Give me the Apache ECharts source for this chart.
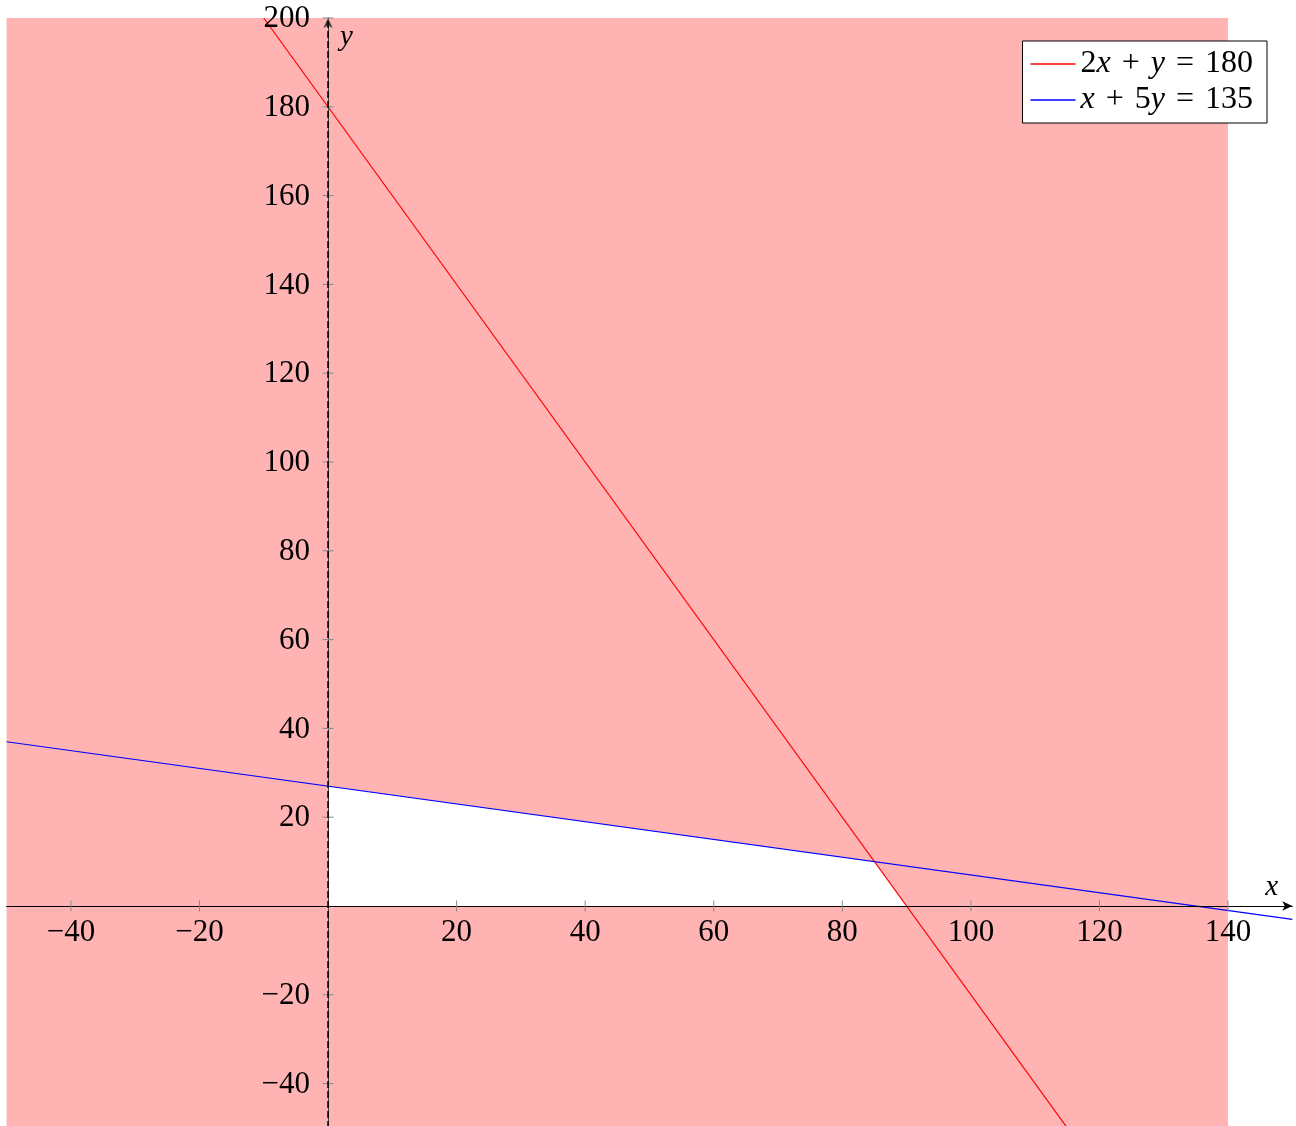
<!DOCTYPE html>
<html><head><meta charset="utf-8">
<script src="https://cdn.jsdelivr.net/npm/echarts@6/dist/echarts.min.js"></script>
<style>html,body{margin:0;padding:0;background:#fff}#c{width:1296px;height:1126px}</style>
</head><body><div id="c"></div>
<script>
// ---- data ----
const xRange = [-50, 150];
const yRange = [-50, 200];
const xTicks = [-40, -20, 20, 40, 60, 80, 100, 120, 140];
const yTicks = [-40, -20, 20, 40, 60, 80, 100, 120, 140, 160, 180, 200];
const seriesNames = ['2x + y = 180', 'x + 5y = 135'];
const line1 = [[-10, 200], [115, -50]];   // 2x + y = 180
const line2 = [[-50, 37], [150, -3]];     // x + 5y = 135
const shadeX = [-50, 140];
const shadeY = [-50, 200];
const feasible = [[0, 0], [0, 27], [85, 10], [90, 0]];
const yDash = [[0, -50], [0, 200]];

// ---- style ----
const FONT = '"Liberation Serif", "DejaVu Serif", serif';
const FS = 31;
const LFS = 32;
const fmtNum = v => String(v).replace('-', '\u2212');
function mathRich(s) {
  let out = '';
  for (const ch of s) {
    if (ch === ' ') continue;
    if (/[a-z]/.test(ch)) out += '{i|' + ch + '}';
    else if (ch === '+' || ch === '=') out += '{o|' + ch + '}';
    else out += '{n|' + ch + '}';
  }
  return out;
}

const chart = echarts.init(document.getElementById('c'), null, {renderer: 'canvas'});
chart.setOption({
  animation: false,
  backgroundColor: '#fff',
  grid: {left: 6.6, top: 18, width: 1285.7, height: 1110, outerBoundsMode: 'none', containLabel: false},
  xAxis: {
    type: 'value', min: xRange[0], max: xRange[1], interval: 10, z: 10,
    splitLine: {show: false},
    axisTick: {show: false},
    axisLabel: {show: false},
    axisLine: {onZero: true, lineStyle: {color: '#000', width: 1.2}, symbol: ['none', 'arrow'], symbolSize: [7, 10]},
    name: 'x', nameLocation: 'end', nameGap: -27,
    nameTextStyle: {fontFamily: FONT, fontStyle: 'italic', fontSize: 29, color: '#000', align: 'left', verticalAlign: 'bottom', padding: [0, 0, 4, 0]}
  },
  yAxis: {
    type: 'value', min: yRange[0], max: yRange[1], interval: 10, z: 10,
    splitLine: {show: false},
    axisTick: {show: false},
    axisLabel: {show: false},
    axisLine: {onZero: true, lineStyle: {color: '#444', width: 1}, symbol: ['none', 'arrow'], symbolSize: [7, 10]},
    name: 'y', nameLocation: 'end', nameGap: -34,
    nameTextStyle: {fontFamily: FONT, fontStyle: 'italic', fontSize: 29, color: '#000', align: 'left', verticalAlign: 'bottom', padding: [0, 0, 0, 12]}
  },
  legend: {
    orient: 'vertical', right: 29, top: 41,
    padding: [7, 14, 7, 8],
    backgroundColor: '#fff', borderColor: '#000', borderWidth: 1, borderRadius: 0,
    itemWidth: 45, itemHeight: 1.3, itemGap: 4, icon: 'rect',
    data: seriesNames,
    formatter: name => mathRich(name),
    textStyle: {
      fontFamily: FONT, fontSize: LFS, color: '#000', lineHeight: 32,
      rich: {
        n: {fontFamily: FONT, fontSize: LFS, color: '#000', lineHeight: 32},
        o: {fontFamily: FONT, fontSize: LFS, color: '#000', lineHeight: 32, padding: [0, 11, 0, 11]},
        i: {fontFamily: FONT, fontSize: LFS, color: '#000', fontStyle: 'italic', lineHeight: 32}
      }
    }
  },
  series: [
    {
      type: 'custom', silent: true, z: 1, clip: false,
      data: [[shadeX[0], shadeY[0]]],
      renderItem: (p, api) => {
        const a = api.coord([shadeX[0], shadeY[1]]);
        const b = api.coord([shadeX[1], shadeY[0]]);
        return {type: 'rect', shape: {x: a[0], y: a[1], width: b[0] - a[0], height: b[1] - a[1]}, style: {fill: '#ffb3b3'}};
      }
    },
    {
      type: 'custom', silent: true, z: 2,
      data: [[0, 0]],
      renderItem: (p, api) => ({
        type: 'polygon', shape: {points: feasible.map(pt => api.coord(pt))}, style: {fill: '#ffffff'}
      })
    },
    {
      name: seriesNames[0], type: 'line', data: line1, symbol: 'none', z: 5,
      lineStyle: {color: '#ff0000', width: 1.2}, itemStyle: {color: '#ff0000'}
    },
    {
      name: seriesNames[1], type: 'line', data: line2, symbol: 'none', z: 5,
      lineStyle: {color: '#0000ff', width: 1.2}, itemStyle: {color: '#0000ff'}
    },
    {
      type: 'line', data: yDash, symbol: 'none', z: 12, silent: true,
      lineStyle: {color: '#000', width: 1.5, type: [7, 3]}
    },
    {
      // x ticks + labels
      type: 'custom', silent: true, z: 11, clip: false,
      data: xTicks.map(v => [v, 0]),
      renderItem: (p, api) => {
        const v = api.value(0);
        const c = api.coord([v, api.value(1)]);
        return {type: 'group', children: [
          {type: 'line', shape: {x1: c[0], y1: c[1] - 5.5, x2: c[0], y2: c[1] + 5.5}, style: {stroke: '#888', lineWidth: 1}},
          {type: 'text', x: c[0], y: c[1] + 11, style: {text: fmtNum(v), fontFamily: FONT, fontSize: FS, fill: '#000', align: 'center', verticalAlign: 'top'}}
        ]};
      }
    },
    {
      // y ticks + labels
      type: 'custom', silent: true, z: 11, clip: false,
      data: yTicks.map(v => [0, v]),
      renderItem: (p, api) => {
        const v = api.value(1);
        const c = api.coord([api.value(0), v]);
        return {type: 'group', children: [
          {type: 'line', shape: {x1: c[0] - 5.5, y1: c[1], x2: c[0] + 5.5, y2: c[1]}, style: {stroke: '#888', lineWidth: 1}},
          {type: 'text', x: c[0] - 18, y: c[1] + 1, style: {text: fmtNum(v), fontFamily: FONT, fontSize: FS, fill: '#000', align: 'right', verticalAlign: 'middle'}}
        ]};
      }
    }
  ]
});
</script>
</body></html>
